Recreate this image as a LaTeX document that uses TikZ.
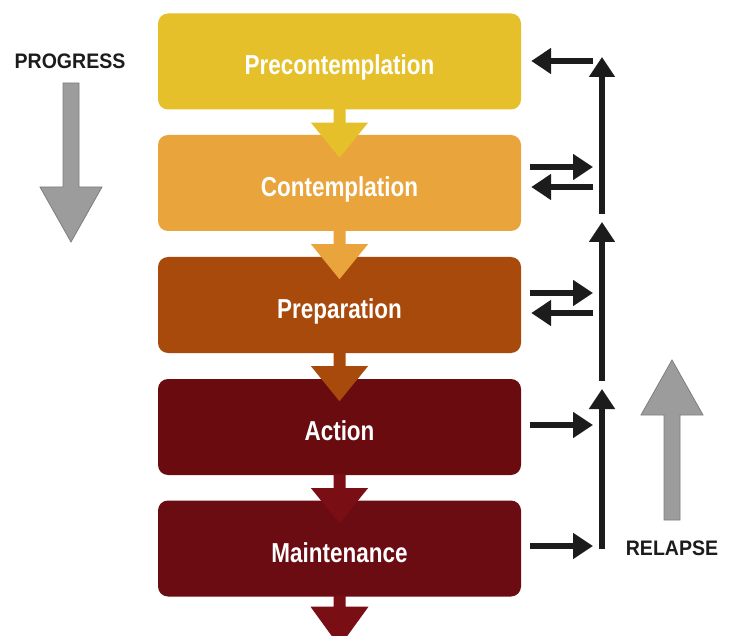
\documentclass[tikz,border=0pt]{standalone}
\usepackage{fontspec}
\setmainfont{Liberation Sans}
\newfontfamily\stagefont{Liberation Sans}[FakeStretch=0.82]
\newfontfamily\sidefont{Liberation Sans}[FakeStretch=0.93]
\usetikzlibrary{arrows.meta,calc}
\definecolor{cA}{HTML}{E6C02A}
\definecolor{cB}{HTML}{E9A43B}
\definecolor{cC}{HTML}{A84A0C}
\definecolor{cD}{HTML}{6A0B10}
\definecolor{cE}{HTML}{6B0C12}
\definecolor{cEa}{HTML}{7A0E15}
\definecolor{ink}{HTML}{1C1C1C}
\definecolor{grayfill}{HTML}{9C9C9C}
\definecolor{grayline}{HTML}{7E7E7E}
\tikzset{
  stage/.style={draw=none, rounded corners=10pt, minimum width=363pt, minimum height=96pt,
    text=white, font=\stagefont\fontsize{27.4}{30}\selectfont\bfseries, inner sep=0pt,
    text height=32pt, text depth=5pt},
  blk/.style={draw=ink, line width=5.5pt, -{Triangle[length=20pt,width=25pt]}},
  side/.style={text=ink, font=\sidefont\fontsize{21}{24}\selectfont\bfseries},
  bigarrow/.style={fill=grayfill, draw=grayline, line width=0.8pt},
}
\begin{document}
\begin{tikzpicture}[x=1pt,y=-1pt]
\useasboundingbox (0,0) rectangle (731,636);
\fill[white] (0,0) rectangle (731,636);
% stages
\node[stage, fill=cA] (b1) at (339.5,61.5) {Precontemplation};
\node[stage, fill=cB] (b2) at (339.5,183) {Contemplation};
\node[stage, fill=cC] (b3) at (339.5,305) {Preparation};
\node[stage, fill=cD] (b4) at (339.5,427) {Action};
\node[stage, fill=cE] (b5) at (339.5,548.5) {Maintenance};
% down arrows between stages
\foreach \b/\c in {b1/cA, b2/cB, b3/cC, b4/cEa}{
  \fill[\c] ($(\b.south)+(-6,-1)$) -- ($(\b.south)+(6,-1)$) -- ($(\b.south)+(6,13)$)
    -- ($(\b.south)+(28.5,13)$) -- ($(\b.south)+(0,48)$) -- ($(\b.south)+(-28.5,13)$)
    -- ($(\b.south)+(-6,13)$) -- cycle;
}
\fill[cEa] ($(b5.south)+(-6,-1)$) -- ($(b5.south)+(6,-1)$) -- ($(b5.south)+(6,10)$)
    -- ($(b5.south)+(29,10)$) -- ($(b5.south)+(0,50)$) -- ($(b5.south)+(-29,10)$)
    -- ($(b5.south)+(-6,10)$) -- cycle;
% side labels
\node[side] (prog) at (70,61) {PROGRESS};
\node[side] (rel) at (672,548) {RELAPSE};
% grey arrows
\fill[bigarrow] (63,83) -- (79,83) -- (79,187) -- (102,187) -- (71,242) -- (40,187) -- (63,187) -- cycle;
\fill[bigarrow] (664,520) -- (680,520) -- (680,415) -- (703,415) -- (672,360) -- (641,415) -- (664,415) -- cycle;
% vertical relapse line segments
\coordinate (v1s) at (602,214);
\coordinate (v1e) at (602,57);
\coordinate (v2s) at (602,381);
\coordinate (v2e) at (602,222);
\coordinate (v3s) at (602,549);
\coordinate (v3e) at (602,389);
\draw[blk] (v1s) -- (v1e);
\draw[blk] (v2s) -- (v2e);
\draw[blk] (v3s) -- (v3e);
% horizontal arrows
\coordinate (r1) at (593,61);
\coordinate (r2a) at (593,167);
\coordinate (r2b) at (593,187);
\coordinate (r3a) at (593,293);
\coordinate (r3b) at (593,313);
\coordinate (r4) at (593,425);
\coordinate (r5) at (593,546);
\draw[blk, shorten >=10pt] (r1) -- (r1 -| b1.east);
\draw[blk, shorten <=9pt] (r2a -| b2.east) -- (r2a);
\draw[blk, shorten >=10pt] (r2b) -- (r2b -| b2.east);
\draw[blk, shorten <=9pt] (r3a -| b3.east) -- (r3a);
\draw[blk, shorten >=10pt] (r3b) -- (r3b -| b3.east);
\draw[blk, shorten <=9pt] (r4 -| b4.east) -- (r4);
\draw[blk, shorten <=9pt] (r5 -| b5.east) -- (r5);
\end{tikzpicture}
\end{document}
